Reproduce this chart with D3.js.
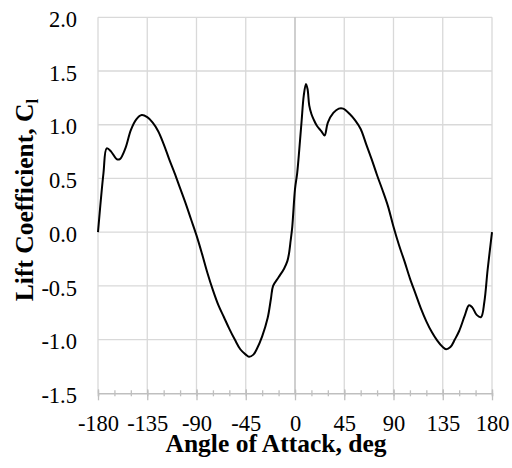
<!DOCTYPE html>
<html>
<head>
<meta charset="utf-8">
<script src="https://cdn.jsdelivr.net/npm/d3@7"></script>
<style>
  html, body { margin: 0; padding: 0; background: #fff; }
  svg { display: block; }
</style>
</head>
<body>
<svg id="chart" width="512" height="468"></svg>
<script>
// Angle of attack (deg) and lift coefficient samples
const angles = [
  -180, -175, -172, -168, -163, -160, -155, -150, -145, -140,
  -135, -130, -125, -120, -115, -110, -105, -100, -95, -90,
  -85, -80, -75, -70, -65, -60, -55, -50, -45, -42,
  -38, -35, -30, -25, -22, -20, -15, -10, -7, -5.5,
  -4, -2.5, 0, 2, 4, 6, 8, 10, 11.5, 13,
  15, 17, 20, 24, 27, 30, 35, 40, 44, 50,
  55, 60, 65, 70, 75, 80, 85, 90, 95, 100,
  105, 110, 115, 120, 125, 130, 135, 138, 142, 146,
  150, 155, 159, 162, 166, 170, 173, 176, 180
];
const liftCoef = [
  0.00, 0.55, 0.78, 0.75, 0.68, 0.68, 0.78, 0.95, 1.05, 1.09,
  1.07, 1.02, 0.94, 0.82, 0.68, 0.55, 0.41, 0.27, 0.12, -0.03,
  -0.20, -0.38, -0.54, -0.68, -0.79, -0.90, -1.00, -1.09, -1.14, -1.16,
  -1.14, -1.09, -0.97, -0.80, -0.62, -0.50, -0.42, -0.34, -0.27, -0.20,
  -0.08, 0.05, 0.40, 0.55, 0.78, 1.03, 1.27, 1.38, 1.33, 1.18,
  1.10, 1.05, 0.99, 0.94, 0.90, 1.02, 1.11, 1.15, 1.15, 1.10,
  1.04, 0.96, 0.82, 0.68, 0.53, 0.39, 0.24, 0.05, -0.12, -0.27,
  -0.43, -0.57, -0.71, -0.83, -0.93, -1.01, -1.07, -1.09, -1.07, -1.00,
  -0.92, -0.78, -0.68, -0.70, -0.77, -0.79, -0.65, -0.35, 0.00
];
const xTicks = [-180, -135, -90, -45, 0, 45, 90, 135, 180];
const xMinorTicks = d3.range(-180, 181, 15);
const yTicks = [-1.5, -1.0, -0.5, 0.0, 0.5, 1.0, 1.5, 2.0];

const svg = d3.select("#chart");
const plotLeft = 98, plotRight = 492, plotTop = 17.3, plotBottom = 393.3;

const x = d3.scaleLinear().domain([-180, 180]).range([plotLeft, plotRight]);
const y = d3.scaleLinear().domain([-1.5, 2.0]).range([plotBottom, plotTop]);

const serif = "'Liberation Serif', 'Times New Roman', serif";
const gridColor = "#d9d9d9";
const axisColor = "#bfbfbf";

// Number formats with a plain hyphen as the minus sign
const fmtInt = d => String(d);
const fmtOne = d => d.toFixed(1);

// Gridlines
const grid = svg.append("g");
grid.selectAll("line.h").data(yTicks.filter(v => v !== -1.5)).join("line")
  .attr("class", "h")
  .attr("x1", plotLeft).attr("x2", plotRight)
  .attr("y1", d => y(d)).attr("y2", d => y(d))
  .attr("stroke", gridColor).attr("stroke-width", 1.3);
grid.selectAll("line.v").data(xTicks.filter(v => v !== 0)).join("line")
  .attr("class", "v")
  .attr("x1", d => x(d)).attr("x2", d => x(d))
  .attr("y1", plotTop).attr("y2", plotBottom)
  .attr("stroke", gridColor).attr("stroke-width", 1.3);

// Vertical axis through zero angle
svg.append("line")
  .attr("x1", x(0)).attr("x2", x(0))
  .attr("y1", plotTop).attr("y2", plotBottom)
  .attr("stroke", axisColor).attr("stroke-width", 1.5);

// Horizontal axis with major and minor cross ticks
const xAxisMinor = d3.axisBottom(x).tickValues(xMinorTicks).tickSize(3).tickFormat("");
const gMinor = svg.append("g").attr("transform", `translate(0,${plotBottom})`).call(xAxisMinor);
gMinor.select(".domain").attr("stroke", axisColor).attr("stroke-width", 1.5);
gMinor.selectAll(".tick line").attr("stroke", axisColor).attr("stroke-width", 1.3)
  .attr("y1", -3).attr("y2", 3);

const xAxisMajor = d3.axisBottom(x).tickValues(xTicks).tickSize(7).tickPadding(17)
  .tickFormat(fmtInt);
const gMajor = svg.append("g").attr("transform", `translate(0,${plotBottom})`).call(xAxisMajor);
gMajor.select(".domain").remove();
gMajor.selectAll(".tick line").attr("stroke", axisColor).attr("stroke-width", 1.3)
  .attr("y1", -4).attr("y2", 7);
gMajor.selectAll(".tick text")
  .attr("font-family", serif).attr("font-size", 22.5).attr("fill", "#000")
  .attr("dy", null).attr("y", 38);

// Vertical axis labels
const yAxis = d3.axisLeft(y).tickValues(yTicks).tickSize(0).tickPadding(21)
  .tickFormat(fmtOne);
const gY = svg.append("g").attr("transform", `translate(${plotLeft},0)`).call(yAxis);
gY.select(".domain").remove();
gY.selectAll(".tick text")
  .attr("font-family", serif).attr("font-size", 22.5).attr("fill", "#000")
  .attr("dy", "0.41em");

// Lift curve
const line = d3.line()
  .x((d, i) => x(angles[i]))
  .y((d, i) => y(liftCoef[i]))
  .curve(d3.curveCatmullRom.alpha(0.5));
svg.append("path")
  .attr("d", line(angles))
  .attr("fill", "none")
  .attr("stroke", "#000")
  .attr("stroke-width", 2)
  .attr("stroke-linejoin", "round");

// Axis titles
svg.append("text")
  .attr("x", 276).attr("y", 452)
  .attr("text-anchor", "middle")
  .attr("font-family", serif).attr("font-size", 25.5).attr("font-weight", "bold")
  .text("Angle of Attack, deg");

const yTitle = svg.append("text")
  .attr("transform", "translate(33,200) rotate(-90)")
  .attr("text-anchor", "middle")
  .attr("font-family", serif).attr("font-size", 25.5).attr("font-weight", "bold");
yTitle.append("tspan").text("Lift Coefficient, C");
yTitle.append("tspan").attr("font-size", 17).attr("dy", 5).text("l");
</script>
</body>
</html>
